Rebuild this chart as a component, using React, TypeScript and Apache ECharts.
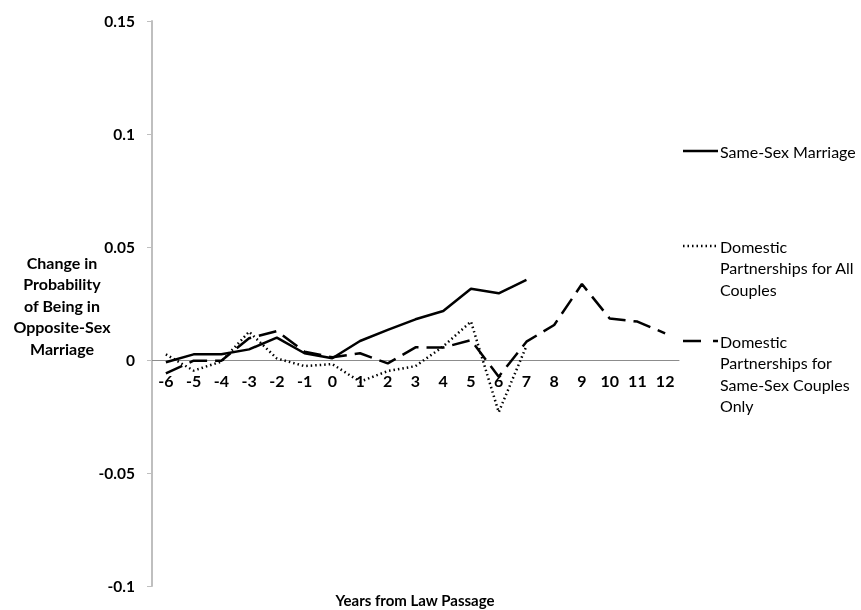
import React, { useEffect, useRef } from "react";
import * as echarts from "echarts";

const years = ["-6", "-5", "-4", "-3", "-2", "-1", "0", "1", "2", "3", "4", "5", "6", "7", "8", "9", "10", "11", "12"];
const sameSexMarriage = [-0.001, 0.0025, 0.0025, 0.0047, 0.0099, 0.003, 0.0008, 0.0084, 0.0133, 0.018, 0.0217, 0.0315, 0.0295, 0.0354, null, null, null, null, null];
const dpAllCouples = [0.0025, -0.0047, -0.0007, 0.0125, 0.0007, -0.0027, -0.0018, -0.0096, -0.0049, -0.0027, 0.006, 0.017, -0.0231, 0.0062, null, null, null, null, null];
const dpSameSexOnly = [-0.0059, -0.0003, -0.0003, 0.0096, 0.0128, 0.0037, 0.0012, 0.003, -0.0015, 0.0056, 0.0055, 0.0088, -0.0074, 0.0081, 0.0155, 0.0336, 0.0184, 0.017, 0.0118];
const seriesNames = ["Same-Sex Marriage", "Domestic Partnerships for All Couples", "Domestic Partnerships for Same-Sex Couples Only"];
const legendLines = [["Same-Sex Marriage"], ["Domestic", "Partnerships for All", "Couples"], ["Domestic", "Partnerships for", "Same-Sex Couples", "Only"]];
const yNameLines = ["Change in", "Probability", "of Being in", "Opposite-Sex", "Marriage"];
const xName = "Years from Law Passage";
const yMin = -0.1;
const yMax = 0.15;
const yStep = 0.05;

const FONT = "Lato, 'Open Sans', sans-serif";

export default function App() {
  const ref = useRef<HTMLDivElement>(null);
  useEffect(() => {
    if (!ref.current) return;
    const chart = echarts.init(ref.current, null, { renderer: "svg" });
    const dashStyles: any[] = ["solid", [1.5, 3], [18, 8]];
    const legendDash: any[] = [null, [1.5, 3], [18, 12]];
    const legendY = [151, 246, 341];
    const graphic: any[] = [];
    legendY.forEach((y, i) => {
      graphic.push({
        type: "line",
        shape: { x1: 683, y1: y, x2: 718, y2: y },
        style: { stroke: "#000", lineWidth: 2.5, lineDash: legendDash[i] },
      });
      legendLines[i].forEach((t, j) => {
        graphic.push({
          type: "text",
          x: 720,
          y: y + j * 21.5,
          style: { text: t, fill: "#000", font: `16px ${FONT}`, textVerticalAlign: "middle", textAlign: "left" },
        });
      });
    });
    yNameLines.forEach((t, j) => {
      graphic.push({
        type: "text",
        x: 62,
        y: 262 + j * 21.5,
        style: { text: t, fill: "#000", font: `bold 16px ${FONT}`, textAlign: "center", textVerticalAlign: "middle" },
      });
    });
    graphic.push({
      type: "text",
      x: 415,
      y: 600,
      style: { text: xName, fill: "#000", font: `bold 15px ${FONT}`, textAlign: "center", textVerticalAlign: "middle" },
    });

    const mk = (name: string, data: any[], i: number) => ({
      name,
      type: "line",
      data,
      symbol: "none",
      connectNulls: false,
      lineStyle: { color: "#000", width: 2.5, type: dashStyles[i] },
    });

    const gridTop = 21;
    const gridBottom = 24;
    const plotH = 610 - gridTop - gridBottom;
    const zeroOffset = -plotH * ((0 - yMin) / (yMax - yMin));

    chart.setOption({
      animation: false,
      grid: { left: 152, right: 182, top: gridTop, bottom: gridBottom },
      xAxis: {
        type: "category",
        data: years,
        boundaryGap: true,
        offset: zeroOffset,
        axisLine: { onZero: false, lineStyle: { color: "#8c8c8c", width: 1 } },
        axisTick: { show: false },
        axisLabel: { color: "#000", fontWeight: "bold", fontSize: 16, fontFamily: FONT, margin: 12, interval: 0 },
      },
      yAxis: {
        type: "value",
        min: yMin,
        max: yMax,
        interval: yStep,
        splitLine: { show: false },
        axisLine: { show: true, lineStyle: { color: "#bfbfbf", width: 2 } },
        axisTick: { show: true, length: 5, lineStyle: { color: "#bfbfbf", width: 1 } },
        axisLabel: {
          color: "#000",
          fontWeight: "bold",
          fontSize: 15.5,
          fontFamily: FONT,
          margin: 17,
          formatter: (v: number) => String(Math.round(v * 100) / 100),
        },
      },
      series: [
        mk(seriesNames[0], sameSexMarriage, 0),
        mk(seriesNames[1], dpAllCouples, 1),
        mk(seriesNames[2], dpSameSexOnly, 2),
      ],
      graphic,
    });
    return () => chart.dispose();
  }, []);
  return <div ref={ref} style={{ position: "fixed", left: 0, top: 0, width: 861, height: 610 }} />;
}
